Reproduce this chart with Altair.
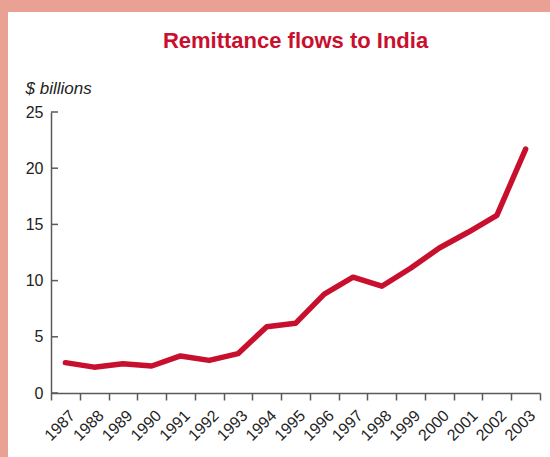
import altair as alt
import pandas as pd

years = [str(y) for y in range(1987, 2004)]
values = [2.7, 2.3, 2.6, 2.4, 3.3, 2.9, 3.5, 5.9, 6.2, 8.8, 10.3, 9.5, 11.1, 12.9, 14.3, 15.8, 21.7]
y_ticks = [0, 5, 10, 15, 20, 25]

RED = "#C8102E"
PINK = "#E9A194"
AXIS = "#5a5a5a"
FONT = "Liberation Sans"

df = pd.DataFrame({"year": years, "value": values})
ticks_df = pd.DataFrame({"v": y_ticks})
bg_df = pd.DataFrame({"k": [0]})

W, H = 489, 281
PL, PT = 51, 112

xenc = alt.X(
    "year:O",
    sort=years,
    scale=alt.Scale(type="band", paddingInner=0, paddingOuter=0),
    bandPosition=0.5,
    axis=alt.Axis(
        title=None,
        tickBand="extent",
        labelAngle=-45,
        labelFontSize=16,
        labelColor="#222222",
        labelFont=FONT,
        domainColor=AXIS,
        domainWidth=1.5,
        tickColor=AXIS,
        tickWidth=1.5,
        tickSize=7,
        labelPadding=7,
        labelOffset=1,
        zindex=1,
    ),
)
yscale = alt.Scale(domain=[0, 25], nice=False, zero=True)

white = alt.Chart(bg_df).mark_rect(color="white").encode(
    x=alt.value(8 - PL), x2=alt.value(550 - PL), y=alt.value(12 - PT), y2=alt.value(457 - PT)
)

line = alt.Chart(df).mark_line(color=RED, strokeWidth=5.5, strokeCap="round", strokeJoin="round").encode(
    x=xenc,
    y=alt.Y(
        "value:Q",
        scale=yscale,
        axis=alt.Axis(
            title="$ billions",
            titleAngle=0,
            titleX=-26,
            titleY=-19,
            titleAlign="left",
            titleBaseline="alphabetic",
            titleFontStyle="italic",
            titleFontWeight="normal",
            titleFontSize=17,
            titleFont=FONT,
            titleColor="#222222",
            values=y_ticks,
            ticks=False,
            labelFontSize=16,
            labelFont=FONT,
            labelColor="#222222",
            labelPadding=8,
            domainColor=AXIS,
            domainWidth=1.5,
            grid=False,
            zindex=1,
        ),
    ),
)

yticks = alt.Chart(ticks_df).mark_rule(color=AXIS, strokeWidth=1.5).encode(
    y=alt.Y("v:Q", scale=yscale), x=alt.value(0), x2=alt.value(7)
)

chart = alt.layer(white, yticks, line).properties(
    width=W,
    height=H,
    title=alt.TitleParams(
        "Remittance flows to India",
        color=RED,
        fontSize=22,
        font=FONT,
        fontWeight="bold",
        anchor="middle",
        offset=-41,
    ),
    background=PINK,
    padding={"left": PL, "top": PT, "right": 550 - PL - W, "bottom": 457 - PT - H},
    autosize=alt.AutoSizeParams(type="none"),
).configure_view(stroke=None)

chart.save("out.html", embed_options={"renderer": "svg", "actions": False})
